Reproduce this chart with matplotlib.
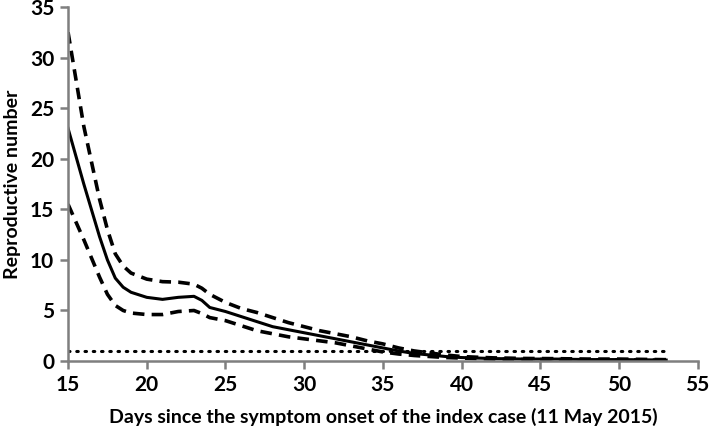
import matplotlib
matplotlib.use("Agg")
import matplotlib.pyplot as plt

# days since symptom onset of the index case
days = [15, 16, 17, 17.5, 18, 18.5, 19, 20, 21, 22, 23, 23.5, 24, 25, 26, 27, 28, 29, 30,
        31, 32, 33, 34, 35, 36, 37, 38, 39, 40, 41, 42, 44, 46, 48, 50, 52, 53]
# estimated reproductive number
r_mid = [23.0, 17.5, 12.3, 10.0, 8.2, 7.3, 6.8, 6.3, 6.1, 6.3, 6.4, 6.0, 5.3, 4.9, 4.4, 3.9,
         3.4, 3.1, 2.8, 2.5, 2.2, 1.9, 1.6, 1.3, 1.0, 0.75, 0.6, 0.45, 0.35, 0.3, 0.25,
         0.2, 0.2, 0.15, 0.15, 0.12, 0.1]
r_upper = [32.5, 23.2, 16.0, 13.0, 10.6, 9.4, 8.7, 8.1, 7.85, 7.8, 7.6, 7.2, 6.6, 5.8, 5.2,
           4.8, 4.3, 3.8, 3.4, 3.0, 2.7, 2.4, 2.0, 1.7, 1.3, 1.0, 0.8, 0.6, 0.45, 0.38,
           0.32, 0.26, 0.24, 0.2, 0.2, 0.16, 0.14]
r_lower = [15.5, 12.0, 8.3, 6.6, 5.5, 5.0, 4.75, 4.6, 4.6, 4.9, 5.0, 4.7, 4.3, 4.0, 3.5,
           3.0, 2.7, 2.4, 2.2, 2.0, 1.8, 1.5, 1.2, 0.9, 0.7, 0.55, 0.45, 0.35, 0.3, 0.25,
           0.2, 0.16, 0.15, 0.12, 0.12, 0.1, 0.08]
threshold_days = [15, 53]
threshold = [1, 1]

plt.rcParams['font.family'] = ['Lato', 'DejaVu Sans']

fig = plt.figure(figsize=(7.09, 4.34), dpi=100)
ax = fig.add_axes([0.096, 0.168, 0.888, 0.816])

ax.plot(days, r_upper, color='black', lw=2.6, dashes=(3.2, 2.0))
ax.plot(days, r_lower, color='black', lw=2.6, dashes=(3.2, 2.0))
ax.plot(days, r_mid, color='black', lw=2.2)
ax.plot(threshold_days, threshold, color='black', lw=2.2, linestyle=(0, (0.5, 2.2)),
        dash_capstyle='round')

ax.set_xlim(15, 55)
ax.set_ylim(0, 35)
ax.set_xticks(range(15, 56, 5))
ax.set_yticks(range(0, 36, 5))

for s in ['top', 'right']:
    ax.spines[s].set_visible(False)
for s in ['left', 'bottom']:
    ax.spines[s].set_color('#7f7f7f')
    ax.spines[s].set_linewidth(1.8)
ax.tick_params(direction='out', length=6, width=1.8, color='#7f7f7f',
               labelsize=15, pad=4)
for lab in ax.get_xticklabels() + ax.get_yticklabels():
    lab.set_fontweight('bold')

ax.set_xlabel('Days since the symptom onset of the index case (11 May 2015)',
              fontsize=14, fontweight='bold', labelpad=9)
ax.set_ylabel('Reproductive number', fontsize=14, fontweight='bold', labelpad=6)

fig.savefig('out.png', dpi=100)
